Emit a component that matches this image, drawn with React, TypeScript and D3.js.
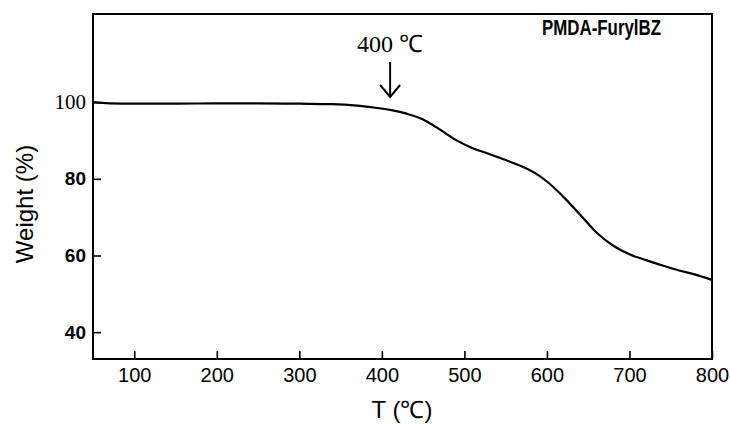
import React, { useEffect, useRef } from "react";
import * as d3 from "d3";

// TGA curve of PMDA-FurylBZ
const temps = [50, 70, 100, 150, 200, 250, 300, 340, 370, 390, 410, 430, 450, 470, 490, 510, 530, 550, 570, 590, 600, 620, 640, 660, 680, 700, 720, 740, 760, 780, 800];
const weights = [100.0, 99.7, 99.6, 99.6, 99.7, 99.7, 99.6, 99.5, 99.1, 98.6, 98.0, 97.0, 95.5, 92.9, 90.1, 88.0, 86.5, 84.9, 83.2, 80.9, 79.3, 75.3, 70.7, 66.0, 62.6, 60.3, 58.8, 57.4, 56.1, 55.0, 53.6];

const xTicks = [100, 200, 300, 400, 500, 600, 700, 800];
const yTicks = [40, 60, 80, 100];

const sans = "'Liberation Sans', Arial, sans-serif";
const serif = "'Liberation Serif', 'Times New Roman', serif";

export default function App() {
  const svgRef = useRef<SVGSVGElement>(null);

  useEffect(() => {
    if (!svgRef.current) return;
    const svg = d3.select(svgRef.current);
    svg.selectAll("*").remove();

    const width = 730;
    const height = 424;
    const left = 93, right = 712, top = 14, bottom = 359;

    const x = d3.scaleLinear().domain([50, 800]).range([left, right]);
    const y = d3.scaleLinear().domain([33, 123]).range([bottom, top]);

    svg.attr("width", width).attr("height", height);
    svg.append("rect").attr("width", width).attr("height", height).attr("fill", "#fff");

    // frame
    svg
      .append("rect")
      .attr("x", left)
      .attr("y", top)
      .attr("width", right - left)
      .attr("height", bottom - top)
      .attr("fill", "none")
      .attr("stroke", "#000")
      .attr("stroke-width", 2);

    // bottom axis, ticks inward
    const xAxis = d3.axisBottom(x).tickValues(xTicks).tickSizeInner(-8).tickSizeOuter(0).tickPadding(9);
    const gx = svg.append("g").attr("transform", `translate(0,${bottom})`).call(xAxis);
    gx.select(".domain").remove();
    gx.selectAll("line").attr("stroke", "#000").attr("stroke-width", 1.6);
    gx.selectAll("text")
      .attr("font-family", sans)
      .attr("font-size", 20)
      .attr("fill", "#000")
      .attr("dy", "0.71em");

    // left axis, ticks inward
    const yAxis = d3.axisLeft(y).tickValues(yTicks).tickSizeInner(-8).tickSizeOuter(0).tickPadding(7);
    const gy = svg.append("g").attr("transform", `translate(${left},0)`).call(yAxis);
    gy.select(".domain").remove();
    gy.selectAll("line").attr("stroke", "#000").attr("stroke-width", 1.6);
    gy.selectAll("text")
      .attr("font-family", (d: any) => (d === 100 ? serif : sans))
      .attr("font-weight", (d: any) => (d === 100 ? "normal" : "bold"))
      .attr("font-size", (d: any) => (d === 100 ? 21 : 19))
      .attr("fill", "#000");

    // curve
    const pts = temps.map((t, i) => [t, weights[i]] as [number, number]);
    const line = d3
      .line<[number, number]>()
      .x((d) => x(d[0]))
      .y((d) => y(d[1]))
      .curve(d3.curveMonotoneX);
    svg
      .append("path")
      .datum(pts)
      .attr("d", line)
      .attr("fill", "none")
      .attr("stroke", "#000")
      .attr("stroke-width", 2.2);

    // onset annotation
    const ax = x(410);
    svg
      .append("text")
      .attr("x", ax)
      .attr("y", 52)
      .attr("text-anchor", "middle")
      .attr("font-family", serif)
      .attr("font-size", 24)
      .text("400 ℃");
    svg
      .append("line")
      .attr("x1", ax)
      .attr("x2", ax)
      .attr("y1", 62)
      .attr("y2", 97)
      .attr("stroke", "#000")
      .attr("stroke-width", 2);
    svg
      .append("path")
      .attr("d", `M${ax - 10},85 L${ax},97 L${ax + 10},85`)
      .attr("fill", "none")
      .attr("stroke", "#000")
      .attr("stroke-width", 2);

    svg
      .append("text")
      .attr("x", 542)
      .attr("y", 35)
      .attr("font-family", sans)
      .attr("font-weight", "bold")
      .attr("font-size", 22)
      .attr("textLength", 119)
      .attr("lengthAdjust", "spacingAndGlyphs")
      .text("PMDA-FurylBZ");

    // axis titles
    svg
      .append("text")
      .attr("transform", `translate(33,204) rotate(-90)`)
      .attr("text-anchor", "middle")
      .attr("font-family", sans)
      .attr("font-size", 24)
      .text("Weight (%)");

    svg
      .append("text")
      .attr("x", 402)
      .attr("y", 418)
      .attr("text-anchor", "middle")
      .attr("font-family", sans)
      .attr("font-size", 24)
      .text("T (℃)");
  }, []);

  return (
    <svg
      ref={svgRef}
      style={{ position: "absolute", left: 0, top: 0, display: "block" }}
    />
  );
}
